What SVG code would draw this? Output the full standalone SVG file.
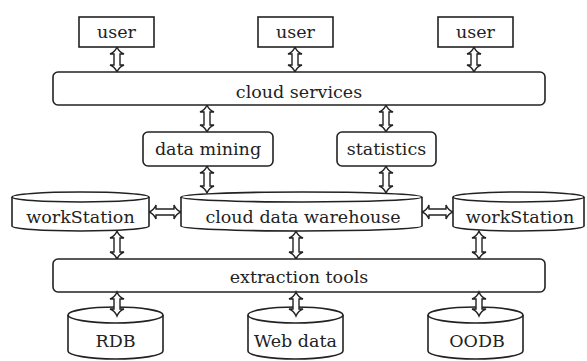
<svg xmlns="http://www.w3.org/2000/svg" width="587" height="361" viewBox="0 0 587 361">
<style>
.s{fill:#fff;stroke:#222;stroke-width:1.6}
.a{fill:#fff;stroke:#222;stroke-width:1.4;stroke-linejoin:miter}
.t{font-family:"DejaVu Serif","Liberation Serif",serif;font-size:17.5px;fill:#222;text-anchor:middle}
</style>
<rect width="587" height="361" fill="#fff"/>
<g id="connectors">
<path class="a" d="M117,47 Q119,52 124,54 L120,54 L120,65 L124,65 Q119,67 117,72 Q115,67 110,65 L114,65 L114,54 L110,54 Q115,52 117,47 Z"/>
<path class="a" d="M295,47 Q297,52 302,54 L298,54 L298,65 L302,65 Q297,67 295,72 Q293,67 288,65 L292,65 L292,54 L288,54 Q293,52 295,47 Z"/>
<path class="a" d="M474,47 Q476,52 481,54 L477,54 L477,65 L481,65 Q476,67 474,72 Q472,67 467,65 L471,65 L471,54 L467,54 Q472,52 474,47 Z"/>
<path class="a" d="M207,105 Q209,110 214,112 L210,112 L210,125 L214,125 Q209,127 207,132 Q205,127 200,125 L204,125 L204,112 L200,112 Q205,110 207,105 Z"/>
<path class="a" d="M386,105 Q388,110 393,112 L389,112 L389,125 L393,125 Q388,127 386,132 Q384,127 379,125 L383,125 L383,112 L379,112 Q384,110 386,105 Z"/>
<path class="a" d="M207,166 Q209,171 214,173 L210,173 L210,186 L214,186 Q209,188 207,193 Q205,188 200,186 L204,186 L204,173 L200,173 Q205,171 207,166 Z"/>
<path class="a" d="M386,166 Q388,171 393,173 L389,173 L389,186 L393,186 Q388,188 386,193 Q384,188 379,186 L383,186 L383,173 L379,173 Q384,171 386,166 Z"/>
<path class="a" d="M149,212 Q154,210 156,205 L156,209 L174,209 L174,205 Q176,210 181,212 Q176,214 174,219 L174,215 L156,215 L156,219 Q154,214 149,212 Z"/>
<path class="a" d="M422,212 Q427,210 429,205 L429,209 L446,209 L446,205 Q448,210 453,212 Q448,214 446,219 L446,215 L429,215 L429,219 Q427,214 422,212 Z"/>
<path class="a" d="M117,231 Q119,236 124,238 L120,238 L120,252 L124,252 Q119,254 117,259 Q115,254 110,252 L114,252 L114,238 L110,238 Q115,236 117,231 Z"/>
<path class="a" d="M296,231 Q298,236 303,238 L299,238 L299,252 L303,252 Q298,254 296,259 Q294,254 289,252 L293,252 L293,238 L289,238 Q294,236 296,231 Z"/>
<path class="a" d="M479,231 Q481,236 486,238 L482,238 L482,252 L486,252 Q481,254 479,259 Q477,254 472,252 L476,252 L476,238 L472,238 Q477,236 479,231 Z"/>
</g>
<g id="user1"><rect class="s" x="79" y="17" width="75" height="30"/><text class="t" x="116.5" y="38">user</text></g>
<g id="user2"><rect class="s" x="258" y="17" width="75" height="30"/><text class="t" x="295.5" y="38">user</text></g>
<g id="user3"><rect class="s" x="438" y="17" width="75" height="30"/><text class="t" x="475.5" y="38">user</text></g>
<g id="cloud-services"><rect class="s" x="53" y="72" width="492" height="33" rx="5"/><text class="t" x="299" y="98">cloud services</text></g>
<g id="data-mining"><rect class="s" x="143" y="132" width="130" height="34" rx="5"/><text class="t" x="208" y="155">data mining</text></g>
<g id="statistics"><rect class="s" x="337" y="132" width="99" height="34" rx="5"/><text class="t" x="386.5" y="155">statistics</text></g>
<g id="workstation-left">
<path class="s" d="M12,197 L12,226 A68.5,5 0 0 0 149,226 L149,197"/>
<ellipse class="s" cx="80.5" cy="197" rx="68.5" ry="5"/>
<text class="t" x="80.5" y="223">workStation</text></g>
<g id="cloud-data-warehouse">
<path class="s" d="M181,197 L181,226 A120.5,5 0 0 0 422,226 L422,197"/>
<ellipse class="s" cx="301.5" cy="197" rx="120.5" ry="5"/>
<text class="t" x="303" y="223">cloud data warehouse</text></g>
<g id="workstation-right">
<path class="s" d="M453,197 L453,226 A65.5,5 0 0 0 584,226 L584,197"/>
<ellipse class="s" cx="518.5" cy="197" rx="65.5" ry="5"/>
<text class="t" x="520" y="223">workStation</text></g>
<g id="extraction-tools"><rect class="s" x="53" y="259" width="492" height="33" rx="5"/><text class="t" x="299" y="283">extraction tools</text></g>
<g id="rdb">
<path class="s" d="M68,315 L68,351 A47.5,8 0 0 0 163,351 L163,315"/>
<ellipse class="s" cx="115.5" cy="315" rx="47.5" ry="8"/>
<text class="t" x="115.5" y="347">RDB</text></g>
<g id="web-data">
<path class="s" d="M248,315 L248,351 A47.5,8 0 0 0 343,351 L343,315"/>
<ellipse class="s" cx="295.5" cy="315" rx="47.5" ry="8"/>
<text class="t" x="295.5" y="347">Web data</text></g>
<g id="oodb">
<path class="s" d="M428,315 L428,351 A47.5,8 0 0 0 523,351 L523,315"/>
<ellipse class="s" cx="475.5" cy="315" rx="47.5" ry="8"/>
<text class="t" x="477" y="347">OODB</text></g>
<g id="connectors-bottom">
<path class="a" d="M117,292 Q119,297 124,299 L120,299 L120,309 L124,309 Q119,311 117,316 Q115,311 110,309 L114,309 L114,299 L110,299 Q115,297 117,292 Z"/>
<path class="a" d="M296,292 Q298,297 303,299 L299,299 L299,309 L303,309 Q298,311 296,316 Q294,311 289,309 L293,309 L293,299 L289,299 Q294,297 296,292 Z"/>
<path class="a" d="M479,292 Q481,297 486,299 L482,299 L482,309 L486,309 Q481,311 479,316 Q477,311 472,309 L476,309 L476,299 L472,299 Q477,297 479,292 Z"/>
</g>
</svg>
